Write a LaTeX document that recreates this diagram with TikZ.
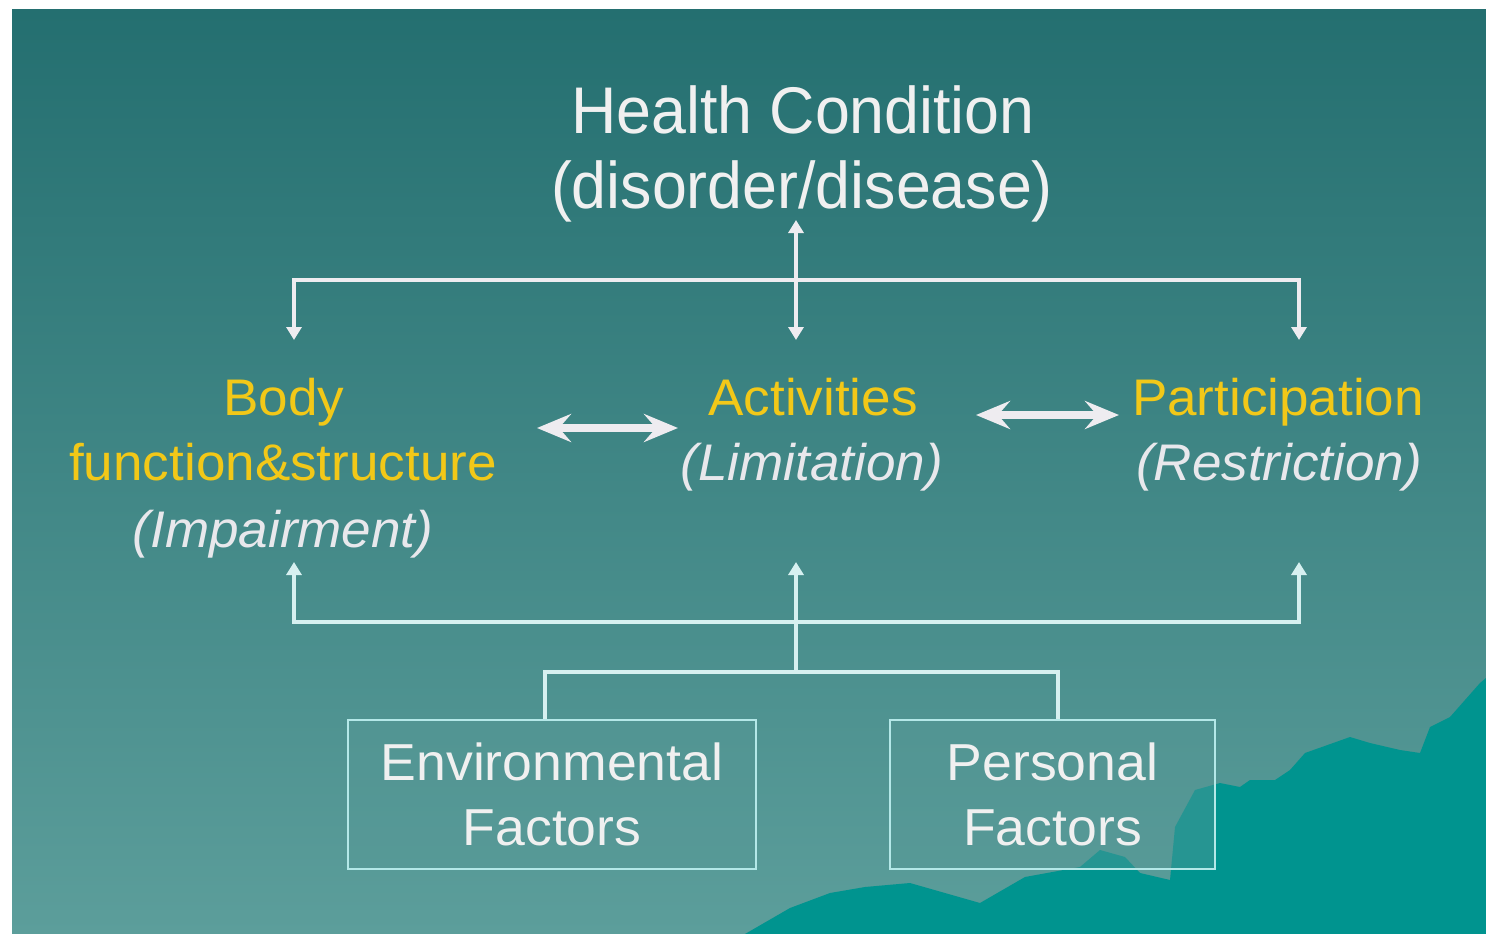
\documentclass[tikz,border=0pt]{standalone}
\usepackage{fontspec}
\setmainfont{Liberation Sans}[FakeStretch=1.03]
\newfontfamily\topfont{Liberation Sans}[FakeStretch=0.95]
\newfontfamily\midfont{Liberation Sans}[FakeStretch=1.03]
\usetikzlibrary{arrows.meta}
\definecolor{bgtop}{RGB}{36,111,112}
\definecolor{bgbot}{RGB}{92,158,155}
\definecolor{boxfill}{RGB}{86,152,150}
\definecolor{mount}{RGB}{0,148,143}
\definecolor{gold}{RGB}{242,200,24}
\definecolor{txt}{RGB}{240,240,240}
\definecolor{itxt}{RGB}{232,232,236}
\definecolor{lnc}{RGB}{238,236,240}
\definecolor{lnc2}{RGB}{214,240,240}
\definecolor{boxc}{RGB}{180,232,232}
\begin{document}
\begin{tikzpicture}[x=1pt,y=-1pt,
  toptext/.style={font=\topfont\fontsize{66}{78}\selectfont, text=txt, anchor=base, inner sep=0pt},
  headtext/.style={font=\midfont\fontsize{51.5}{62}\selectfont, text=gold, anchor=base, inner sep=0pt},
  subtext/.style={font=\midfont\itshape\fontsize{51.5}{62}\selectfont, text=itxt, anchor=base, inner sep=0pt},
  factorbox/.style={draw=boxc, line width=1.5pt, fill=boxfill, fill opacity=0.45, text opacity=1,
    align=center, text=txt, inner sep=0pt,
    font=\fontsize{52}{65}\selectfont, minimum height=149pt},
  conn/.style={draw=lnc, line width=4pt},
  conn2/.style={draw=lnc2, line width=4pt},
  tip/.tip={Triangle[length=13pt,width=15pt]},
  blockarrow/.style={draw=lnc, line width=8pt, {Stealth[length=34pt,width=28pt,inset=12pt]}-{Stealth[length=34pt,width=28pt,inset=12pt]}}
]
% canvas and background
\fill[white] (0,0) rectangle (1486,934);
\useasboundingbox (0,0) rectangle (1486,934);
\shade[top color=bgtop, bottom color=bgbot] (12,10) rectangle (1486,934);
% mountain
\fill[mount] (745,934) -- (790,908) -- (830,893) -- (865,887) -- (910,883) -- (945,893)
  -- (980,903) -- (1025,877) -- (1080,867) -- (1100,850) -- (1125,857) -- (1140,873)
  -- (1170,880) -- (1175,827) -- (1195,790) -- (1220,783) -- (1240,787) -- (1250,780)
  -- (1275,780) -- (1290,770) -- (1305,753) -- (1350,737) -- (1370,743) -- (1400,750)
  -- (1420,753) -- (1430,727) -- (1450,717) -- (1465,700) -- (1480,683) -- (1486,678)
  -- (1486,934) -- cycle;

% texts
\node[toptext] (hc1) at (803,133) {Health Condition};
\node[toptext] (hc2) at (802,208) {(disorder/disease)};

\node[headtext] (body1) at (284,415) {Body};
\node[headtext] (body2) at (283,480) {function\&structure};
\node[subtext] (body3) at (283,547) {(Impairment)};

\node[headtext] (act1) at (813,415) {Activities};
\node[subtext] (act2) at (812,480) {(Limitation)};

\node[headtext] (par1) at (1278,415) {Participation};
\node[subtext] (par2) at (1279,480) {(Restriction)};

\node[factorbox, minimum width=408pt] (env) at (552,794.5) {Environmental\\Factors};
\node[factorbox, minimum width=325pt] (pers) at (1052.5,794.5) {Personal\\Factors};

% top connectors
\coordinate (hcin) at (796,220);
\coordinate (jt) at (796,280);
\coordinate (tl) at (294,280);
\coordinate (tr) at (1299,280);
\coordinate (bodyin) at (294,340);
\coordinate (actin) at (796,340);
\coordinate (parin) at (1299,340);
\draw[conn, {tip}-{tip}] (bodyin) -- (tl) -- (tr) -- (parin);
\draw[conn, {tip}-{tip}] (hcin) -- (actin);

% horizontal double arrows
\coordinate (ba1) at (537,428);
\coordinate (ba2) at (678,428);
\coordinate (pa1) at (976,415);
\coordinate (pa2) at (1119,415);
\draw[blockarrow] (ba1) -- (ba2);
\draw[blockarrow] (pa1) -- (pa2);

% bottom connectors
\coordinate (bodyup) at (294,562);
\coordinate (bl) at (294,622);
\coordinate (br) at (1299,622);
\coordinate (parup) at (1299,562);
\coordinate (actup) at (796,562);
\coordinate (jb) at (796,672);
\coordinate (el) at (545,672);
\coordinate (pr) at (1058,672);
\draw[conn2, {tip}-{tip}] (bodyup) -- (bl) -- (br) -- (parup);
\draw[conn2, -{tip}] (jb) -- (actup);
\draw[conn2] (env.north -| el) -- (el) -- (pr) -- (pers.north -| pr);
\end{tikzpicture}
\end{document}
